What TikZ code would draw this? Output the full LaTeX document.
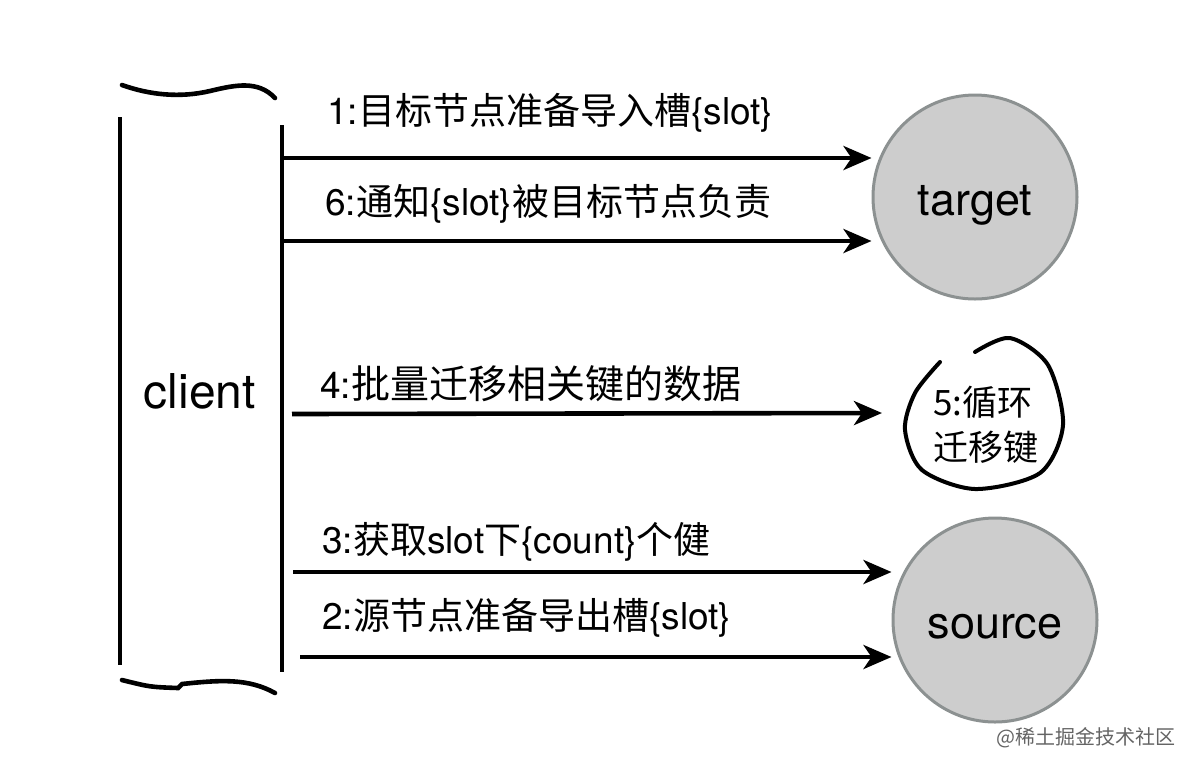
\documentclass[tikz,border=0pt]{standalone}
\usepackage{fontspec}
\setmainfont{TeX Gyre Heros}
\newfontfamily\cjk{Noto Sans CJK SC}
\usetikzlibrary{arrows.meta,positioning}
\definecolor{nodefill}{RGB}{205,205,205}
\definecolor{nodeedge}{RGB}{140,145,145}
\tikzset{
 msg/.style={-{Stealth[length=14pt,width=12pt,inset=4pt]},line width=2.3pt},
 msglabel/.style={anchor=west,inner sep=0pt,font=\fontsize{18.5}{20}\selectfont},
 redis/.style={circle,draw=nodeedge,fill=nodefill,line width=1.5pt,minimum size=102pt,inner sep=0pt,font=\fontsize{22.5}{24}\selectfont,text height=18pt,text depth=0pt},
}
\begin{document}
\begin{tikzpicture}[x=0.5pt,y=-0.5pt]
 \useasboundingbox (0,0) rectangle (1196,768);
 \draw[line width=2.3pt](120,117)--(120,665);
 \draw[line width=2.3pt](282,125)--(282,672);
 \draw[line width=2.3pt,line cap=round](122,85) .. controls (150,95) and (180,98) .. (210,91) .. controls (235,85) and (258,80) .. (275,98);
 \draw[line width=2.3pt,line cap=round](122,680) .. controls (150,687) .. (178,688)--(182,684) .. controls (220,680) and (248,678) .. (275,693);
 \node[anchor=base,inner sep=0pt,font=\fontsize{24}{26}\selectfont] (client) at (200,408) {client};
 \node[redis] (target) at (975,197) {target};
 \node[redis] (source) at (995,620) {source};
 \node[inner sep=0pt,align=left,font=\cjk\fontsize{17.5}{22.5}\selectfont] (loop) at (986,425) {5:循环\\迁移键};
 \draw[line width=2pt,line cap=round] plot[smooth] coordinates {(975,352) (1010,338) (1048,365) (1063,425) (1040,473) (975,489) (922,470) (905,430) (915,393) (940,362)};
 \coordinate (c1) at (282,158);
 \coordinate (c6) at (282,241);
 \coordinate (c4) at (292,414);
 \coordinate (c3) at (293,572);
 \coordinate (c2) at (300,657);
 \coordinate (k4) at (882,413);
 \draw[msg](c1)--(c1 -| target.west);
 \draw[msg](c6)--(c6 -| target.west);
 \draw[msg](c4)--(k4);
 \draw[msg](c3)--(c3 -| source.west);
 \draw[msg](c2)--(c2 -| source.west);
 \node[msglabel] (m1) at (327,113) {1:{\cjk 目标节点准备导入槽}\{slot\}};
 \node[msglabel] (m6) at (325,204) {6:{\cjk 通知}\{slot\}{\cjk 被目标节点负责}};
 \node[msglabel] (m4) at (320,384) {4:{\cjk\fontsize{19.5}{20}\selectfont 批量迁移相关键的数据}};
 \node[msglabel] (m3) at (322,542) {3:{\cjk 获取}slot{\cjk 下}\{count\}{\cjk 个健}};
 \node[msglabel] (m2) at (322,618) {2:{\cjk 源节点准备导出槽}\{slot\}};
 \node[anchor=east,inner sep=0pt,text={rgb,255:red,100;green,100;blue,100},font=\cjk\fontsize{10}{12}\selectfont] (mark) at (1176,738) {@稀土掘金技术社区};
\end{tikzpicture}
\end{document}
